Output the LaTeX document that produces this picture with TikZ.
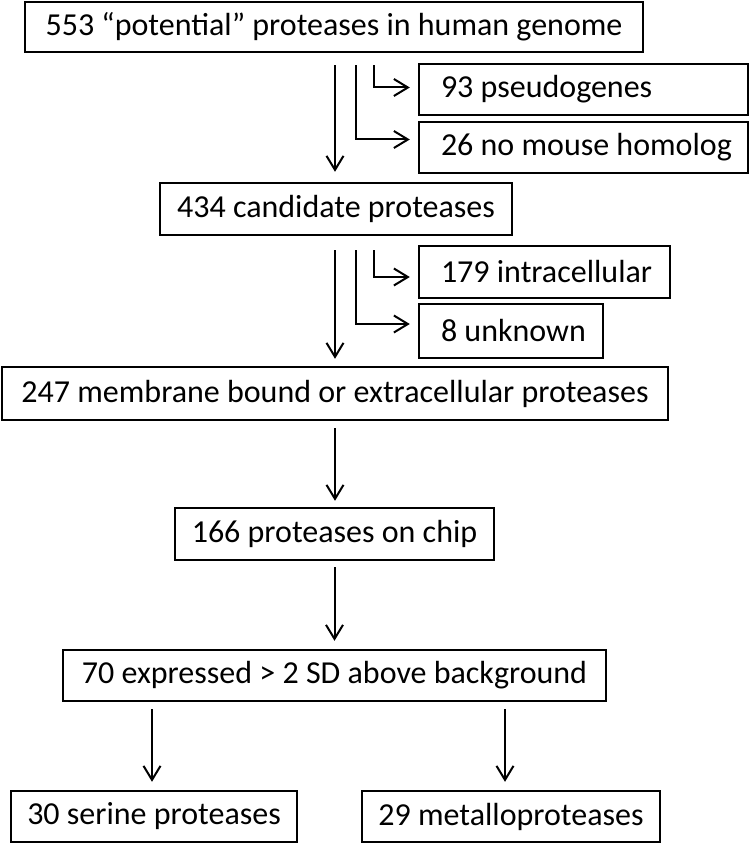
\documentclass[tikz,border=0pt]{standalone}
\usepackage{fontspec}
\setmainfont{Carlito}
\usetikzlibrary{arrows.meta}
\begin{document}
\begin{tikzpicture}[x=1pt,y=-1pt,
  box/.style={draw=black, line width=2.4pt, rectangle, inner sep=0pt, align=center,
    font=\fontsize{32}{36}\selectfont},
  side/.style={box, inner xsep=0pt},
  arr/.style={draw=black, line width=2pt, -{Straight Barb[length=14pt,width=17pt,line width=2pt]}}]
\useasboundingbox (0,0) rectangle (750,845);
\node[box, minimum width=618pt, minimum height=50pt] (b1) at (334,27) {553 “potential” proteases in human genome};
\node[side, minimum width=329pt, minimum height=51pt] (s1) at (583.5,89.5) {\makebox[285pt][l]{93 pseudogenes}};
\node[side, minimum width=329pt, minimum height=51pt] (s2) at (583.5,147.5) {\makebox[285pt][l]{26 no mouse homolog}};
\node[box, minimum width=352pt, minimum height=52pt] (b2) at (336,209) {434 candidate proteases};
\node[side, minimum width=251pt, minimum height=52pt] (s3) at (544.5,272) {\makebox[207pt][l]{179 intracellular}};
\node[side, minimum width=184pt, minimum height=54pt] (s4) at (511,331) {\makebox[140pt][l]{8 unknown}};
\node[box, minimum width=666pt, minimum height=53pt] (b3) at (335,393.5) {247 membrane bound or extracellular proteases};
\node[box, minimum width=319pt, minimum height=52pt] (b4) at (334.5,534) {166 proteases on chip};
\node[box, minimum width=543pt, minimum height=51pt] (b5) at (334.5,675.5) {70 expressed > 2 SD above background};
\node[box, minimum width=286pt, minimum height=51pt] (b6) at (154,816.5) {30 serine proteases};
\node[box, minimum width=298pt, minimum height=51pt] (b7) at (511,816.5) {29 metalloproteases};
% first filter
\draw[arr, shorten <=12pt, shorten >=10pt] ([xshift=1pt]b1.south) -- ([xshift=1pt]b1.south |- b2.north);
\draw[arr, shorten >=8pt] ([xshift=22pt,yshift=-12pt]b1.south) |- ([yshift=8pt]s2.west);
\draw[arr, shorten >=8pt] ([xshift=40pt,yshift=-12pt]b1.south) |- ([yshift=2pt]s1.west);
% second filter
\draw[arr, shorten <=14pt, shorten >=7pt] ([xshift=-1pt]b2.south) -- ([xshift=-1pt]b2.south |- b3.north);
\draw[arr, shorten >=8pt] ([xshift=20pt,yshift=-14pt]b2.south) |- ([yshift=7pt]s4.west);
\draw[arr, shorten >=8pt] ([xshift=38pt,yshift=-14pt]b2.south) |- ([yshift=-5pt]s3.west);
% chain
\draw[arr, shorten <=7pt, shorten >=6pt] (b3.south) -- (b3.south |- b4.north);
\draw[arr, shorten <=6pt, shorten >=8pt] (b4.south) -- (b4.south |- b5.north);
\draw[arr, shorten <=7pt, shorten >=8pt] ([xshift=-2pt]b6.north |- b5.south) -- ([xshift=-2pt]b6.north);
\draw[arr, shorten <=7pt, shorten >=8pt] ([xshift=-6pt]b7.north |- b5.south) -- ([xshift=-6pt]b7.north);
\end{tikzpicture}
\end{document}
